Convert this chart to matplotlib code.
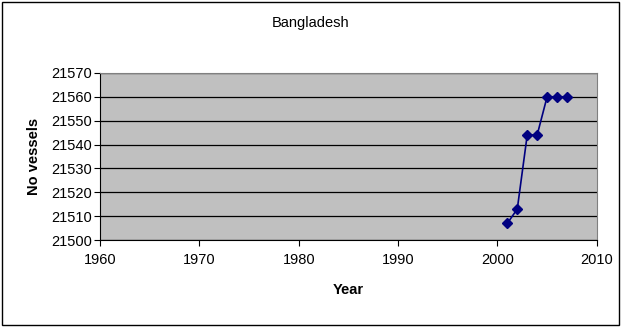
import numpy as np
import matplotlib.pyplot as plt
from matplotlib.patches import Rectangle

plt.rcParams['font.family'] = ['Liberation Sans', 'DejaVu Sans']

years = [2001, 2002, 2003, 2004, 2005, 2006, 2007]
vessels = [21507, 21513, 21544, 21544, 21560, 21560, 21560]

fig = plt.figure(figsize=(6.21, 3.27), dpi=100)
fig.patch.set_facecolor('white')
fig.patches.append(Rectangle((0.004, 0.006), 0.992, 0.988, transform=fig.transFigure,
                             fill=False, edgecolor='black', linewidth=1))

ax = fig.add_axes([0.161, 0.266, 0.800, 0.511])
ax.set_facecolor('#C0C0C0')
ax.plot(years, vessels, color='#000080', linewidth=1.2, marker='D',
        markersize=5.5, markerfacecolor='#000080', markeredgecolor='#000080')

ax.set_xlim(1960, 2010)
ax.set_ylim(21500, 21570)
ax.set_xticks(np.arange(1960, 2011, 10))
ax.set_yticks(np.arange(21500, 21571, 10))
ax.yaxis.grid(True, color='black', linewidth=0.9)
ax.set_axisbelow(True)

for side in ['top', 'right']:
    ax.spines[side].set_color('#808080')
for side in ['left', 'bottom']:
    ax.spines[side].set_color('black')

ax.tick_params(axis='both', direction='out', length=4, width=0.8, labelsize=10.5, colors='black')
ax.tick_params(axis='y', pad=2)
ax.tick_params(axis='x', pad=5)

ax.set_xlabel('Year', fontsize=10.5, fontweight='bold', labelpad=12)
ax.set_ylabel('No vessels', fontsize=10.5, fontweight='bold', labelpad=7)
fig.text(0.5, 0.93, 'Bangladesh', ha='center', va='center', fontsize=10.5)

fig.savefig('out.png', dpi=100)
